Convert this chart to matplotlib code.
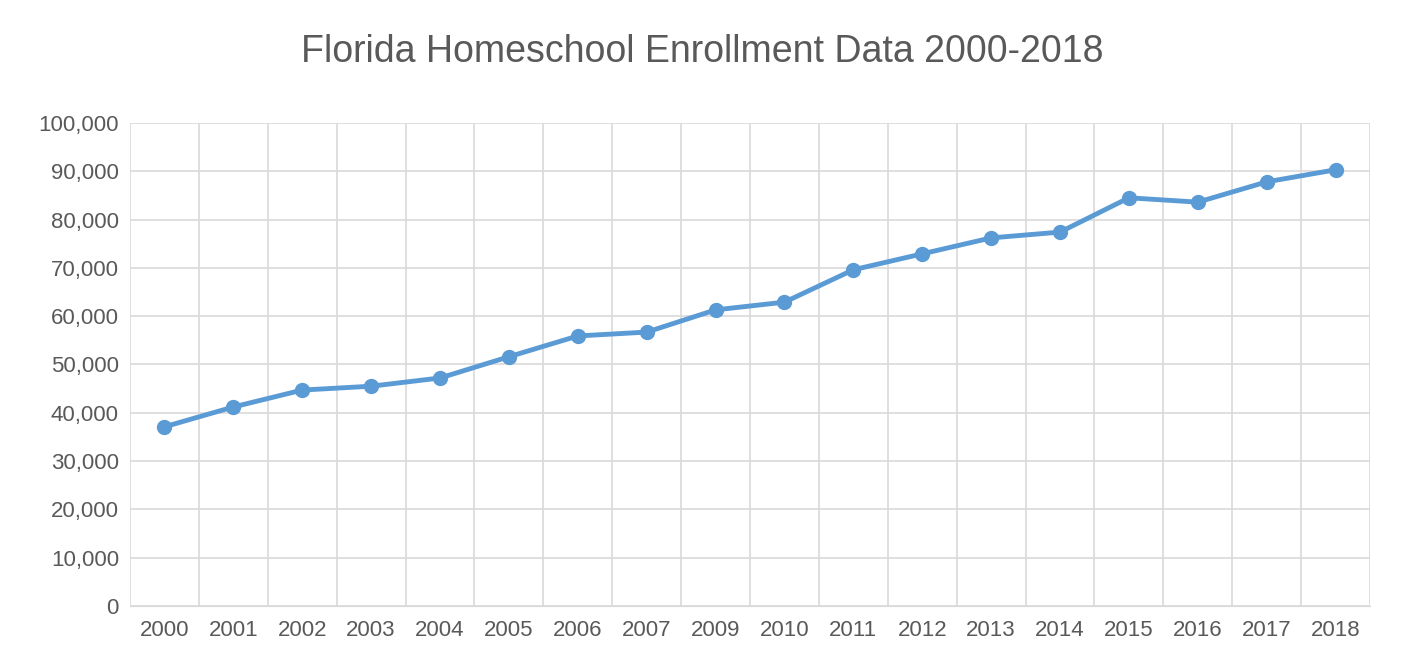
import numpy as np
import matplotlib.pyplot as plt
from matplotlib.ticker import FuncFormatter

years = ['2000', '2001', '2002', '2003', '2004', '2005', '2006', '2007', '2009',
         '2010', '2011', '2012', '2013', '2014', '2015', '2016', '2017', '2018']
enrollment = [37100, 41200, 44700, 45500, 47200, 51600, 55900, 56700, 61300,
              62900, 69600, 72900, 76200, 77400, 84500, 83600, 87800, 90300]

plt.rcParams['font.family'] = ['Liberation Sans', 'DejaVu Sans']
txt = '#595959'

fig = plt.figure(figsize=(14.04, 6.68), dpi=100)
ax = fig.add_axes([0.0926, 0.0928, 0.8832, 0.7232])
x = np.arange(len(years))
ax.plot(x, enrollment, color='#5B9BD5', lw=3.5, marker='o', ms=10, zorder=3)

ax.set_xlim(-0.5, len(years) - 0.5)
ax.set_ylim(0, 100000)
ax.set_yticks(np.arange(0, 100001, 10000))
ax.yaxis.set_major_formatter(FuncFormatter(lambda v, p: f'{int(v):,}'))
ax.set_xticks(x)
ax.set_xticklabels(years)
ax.grid(axis='y', color='#d9d9d9', lw=1.2)
for b in np.arange(-0.5, len(years), 1.0):
    ax.axvline(b, color='#d9d9d9', lw=1.2, zorder=0)
for s in ['top', 'right', 'left']:
    ax.spines[s].set_visible(False)
ax.spines['bottom'].set_color('#d9d9d9')
ax.tick_params(length=0, labelsize=16, colors=txt, pad=10)
ax.tick_params(axis='y', pad=8)
fig.text(0.5, 0.922, 'Florida Homeschool Enrollment Data 2000-2018',
         ha='center', va='center', fontsize=27, color=txt)
fig.savefig('out.png')
